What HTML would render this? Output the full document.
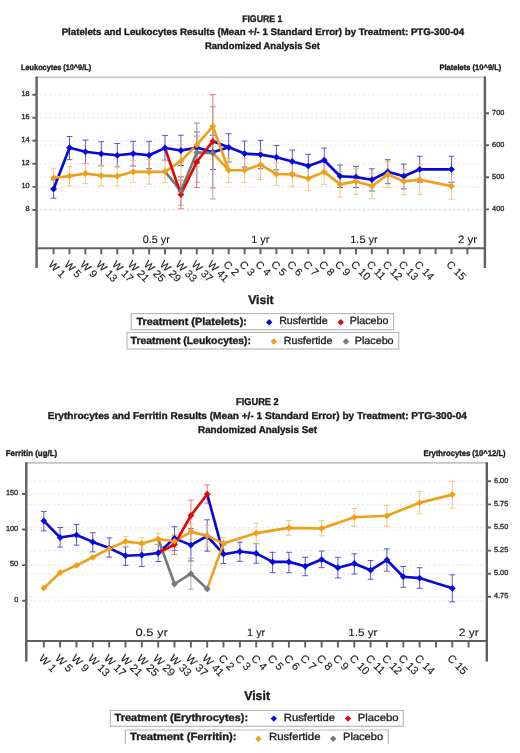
<!DOCTYPE html><html><head><meta charset="utf-8"><title>Figures</title><style>html,body{margin:0;padding:0;background:#fff;width:520px;height:753px;overflow:hidden}svg{display:block;will-change:transform;font-family:"Liberation Sans",sans-serif;text-rendering:geometricPrecision}</style></head><body>
<svg width="520" height="753" viewBox="0 0 520 753">
<rect width="520" height="753" fill="#fff"/>
<text x="262.2" y="21.8" font-size="9.6" font-weight="bold" text-anchor="middle" fill="#1a1a1a" stroke="#1a1a1a" stroke-width="0.36" textLength="40.1" lengthAdjust="spacingAndGlyphs">FIGURE 1</text>
<text x="262.9" y="35.3" font-size="9.6" font-weight="bold" text-anchor="middle" fill="#1a1a1a" stroke="#1a1a1a" stroke-width="0.36" textLength="402.5" lengthAdjust="spacingAndGlyphs">Platelets and Leukocytes Results (Mean +/- 1 Standard Error) by Treatment: PTG-300-04</text>
<text x="262.4" y="48.8" font-size="9.6" font-weight="bold" text-anchor="middle" fill="#1a1a1a" stroke="#1a1a1a" stroke-width="0.36" textLength="114.8" lengthAdjust="spacingAndGlyphs">Randomized Analysis Set</text>
<text x="21.1" y="70.3" font-size="7.9" font-weight="bold" text-anchor="start" fill="#1a1a1a" stroke="#1a1a1a" stroke-width="0.36" textLength="70.0" lengthAdjust="spacingAndGlyphs">Leukocytes (10^9/L)</text>
<text x="439.5" y="70.3" font-size="7.9" font-weight="bold" text-anchor="start" fill="#1a1a1a" stroke="#1a1a1a" stroke-width="0.36" textLength="61.8" lengthAdjust="spacingAndGlyphs">Platelets (10^9/L)</text>
<path d="M39.6 94.8H482.9" stroke="#e8e8e8" stroke-width="1.1" stroke-dasharray="2.4 2.35"/>
<path d="M39.6 117.7H482.9" stroke="#e8e8e8" stroke-width="1.1" stroke-dasharray="2.4 2.35"/>
<path d="M39.6 140.8H482.9" stroke="#e8e8e8" stroke-width="1.1" stroke-dasharray="2.4 2.35"/>
<path d="M39.6 163.8H482.9" stroke="#e8e8e8" stroke-width="1.1" stroke-dasharray="2.4 2.35"/>
<path d="M39.6 186.9H482.9" stroke="#e8e8e8" stroke-width="1.1" stroke-dasharray="2.4 2.35"/>
<path d="M39.6 210.0H482.9" stroke="#e8e8e8" stroke-width="1.1" stroke-dasharray="2.4 2.35"/>
<path d="M39.6 113.3H482.9" stroke="#e8e8e8" stroke-width="1.1" stroke-dasharray="2.4 2.35"/>
<path d="M39.6 145.2H482.9" stroke="#e8e8e8" stroke-width="1.1" stroke-dasharray="2.4 2.35"/>
<path d="M39.6 177.2H482.9" stroke="#e8e8e8" stroke-width="1.1" stroke-dasharray="2.4 2.35"/>
<path d="M39.6 209.4H482.9" stroke="#e8e8e8" stroke-width="1.1" stroke-dasharray="2.4 2.35"/>
<path d="M36.6 77.2H484.9" stroke="#c4c4c4" stroke-width="1.4"/>
<path d="M36.6 76.5V268.0M484.9 76.5V268.0" stroke="#606060" stroke-width="2.4"/>
<path d="M36.6 248.3H484.9" stroke="#606060" stroke-width="2"/>
<path d="M53.6 248.3V254.3M69.5 248.3V254.3M85.4 248.3V254.3M101.3 248.3V254.3M117.3 248.3V254.3M133.2 248.3V254.3M149.1 248.3V254.3M165.0 248.3V254.3M180.9 248.3V254.3M196.8 248.3V254.3M212.8 248.3V254.3M228.7 248.3V254.3M244.6 248.3V254.3M260.5 248.3V254.3M276.4 248.3V254.3M292.3 248.3V254.3M308.3 248.3V254.3M324.2 248.3V254.3M340.1 248.3V254.3M356.0 248.3V254.3M371.9 248.3V254.3M387.8 248.3V254.3M403.8 248.3V254.3M419.7 248.3V254.3M435.6 248.3V254.3M451.5 248.3V254.3M467.4 248.3V254.3" stroke="#606060" stroke-width="1.9"/>
<path d="M32.4 94.8H36.6M32.4 117.7H36.6M32.4 140.8H36.6M32.4 163.8H36.6M32.4 186.9H36.6M32.4 210.0H36.6M484.9 113.3H489.1M484.9 145.2H489.1M484.9 177.2H489.1M484.9 209.4H489.1" stroke="#606060" stroke-width="1.9"/>
<text x="29.6" y="96.1" font-size="7.3" text-anchor="end" fill="#2a2a2a" stroke="#2a2a2a" stroke-width="0.32">18</text>
<text x="29.6" y="119.0" font-size="7.3" text-anchor="end" fill="#2a2a2a" stroke="#2a2a2a" stroke-width="0.32">16</text>
<text x="29.6" y="142.1" font-size="7.3" text-anchor="end" fill="#2a2a2a" stroke="#2a2a2a" stroke-width="0.32">14</text>
<text x="29.6" y="165.1" font-size="7.3" text-anchor="end" fill="#2a2a2a" stroke="#2a2a2a" stroke-width="0.32">12</text>
<text x="29.6" y="188.2" font-size="7.3" text-anchor="end" fill="#2a2a2a" stroke="#2a2a2a" stroke-width="0.32">10</text>
<text x="29.6" y="211.3" font-size="7.3" text-anchor="end" fill="#2a2a2a" stroke="#2a2a2a" stroke-width="0.32">8</text>
<text x="492.1" y="114.6" font-size="7.3" text-anchor="start" fill="#2a2a2a" stroke="#2a2a2a" stroke-width="0.32">700</text>
<text x="492.1" y="146.5" font-size="7.3" text-anchor="start" fill="#2a2a2a" stroke="#2a2a2a" stroke-width="0.32">600</text>
<text x="492.1" y="178.5" font-size="7.3" text-anchor="start" fill="#2a2a2a" stroke="#2a2a2a" stroke-width="0.32">500</text>
<text x="492.1" y="210.7" font-size="7.3" text-anchor="start" fill="#2a2a2a" stroke="#2a2a2a" stroke-width="0.32">400</text>
<text x="142.8" y="243.3" font-size="10.6" text-anchor="start" fill="#1a1a1a" stroke="#1a1a1a" stroke-width="0.12" textLength="27.0" lengthAdjust="spacingAndGlyphs">0.5 yr</text>
<text x="251.2" y="243.3" font-size="10.6" text-anchor="start" fill="#1a1a1a" stroke="#1a1a1a" stroke-width="0.12" textLength="18.3" lengthAdjust="spacingAndGlyphs">1 yr</text>
<text x="350.2" y="243.3" font-size="10.6" text-anchor="start" fill="#1a1a1a" stroke="#1a1a1a" stroke-width="0.12" textLength="27.6" lengthAdjust="spacingAndGlyphs">1.5 yr</text>
<text x="457.9" y="243.3" font-size="10.6" text-anchor="start" fill="#1a1a1a" stroke="#1a1a1a" stroke-width="0.12" textLength="19.3" lengthAdjust="spacingAndGlyphs">2 yr</text>
<text x="50.0" y="266.0" font-size="10.7" fill="#1a1a1a" stroke="#1a1a1a" stroke-width="0.12" transform="rotate(45 50.0 262.8)">W 1</text>
<text x="65.9" y="266.0" font-size="10.7" fill="#1a1a1a" stroke="#1a1a1a" stroke-width="0.12" transform="rotate(45 65.9 262.8)">W 5</text>
<text x="81.8" y="266.0" font-size="10.7" fill="#1a1a1a" stroke="#1a1a1a" stroke-width="0.12" transform="rotate(45 81.8 262.8)">W 9</text>
<text x="97.7" y="266.0" font-size="10.7" fill="#1a1a1a" stroke="#1a1a1a" stroke-width="0.12" transform="rotate(45 97.7 262.8)">W 13</text>
<text x="113.7" y="266.0" font-size="10.7" fill="#1a1a1a" stroke="#1a1a1a" stroke-width="0.12" transform="rotate(45 113.7 262.8)">W 17</text>
<text x="129.6" y="266.0" font-size="10.7" fill="#1a1a1a" stroke="#1a1a1a" stroke-width="0.12" transform="rotate(45 129.6 262.8)">W 21</text>
<text x="145.5" y="266.0" font-size="10.7" fill="#1a1a1a" stroke="#1a1a1a" stroke-width="0.12" transform="rotate(45 145.5 262.8)">W 25</text>
<text x="161.4" y="266.0" font-size="10.7" fill="#1a1a1a" stroke="#1a1a1a" stroke-width="0.12" transform="rotate(45 161.4 262.8)">W 29</text>
<text x="177.3" y="266.0" font-size="10.7" fill="#1a1a1a" stroke="#1a1a1a" stroke-width="0.12" transform="rotate(45 177.3 262.8)">W 33</text>
<text x="193.2" y="266.0" font-size="10.7" fill="#1a1a1a" stroke="#1a1a1a" stroke-width="0.12" transform="rotate(45 193.2 262.8)">W 37</text>
<text x="209.2" y="266.0" font-size="10.7" fill="#1a1a1a" stroke="#1a1a1a" stroke-width="0.12" transform="rotate(45 209.2 262.8)">W 41</text>
<text x="225.1" y="266.0" font-size="10.7" fill="#1a1a1a" stroke="#1a1a1a" stroke-width="0.12" transform="rotate(45 225.1 262.8)">C 2</text>
<text x="241.0" y="266.0" font-size="10.7" fill="#1a1a1a" stroke="#1a1a1a" stroke-width="0.12" transform="rotate(45 241.0 262.8)">C 3</text>
<text x="256.9" y="266.0" font-size="10.7" fill="#1a1a1a" stroke="#1a1a1a" stroke-width="0.12" transform="rotate(45 256.9 262.8)">C 4</text>
<text x="272.8" y="266.0" font-size="10.7" fill="#1a1a1a" stroke="#1a1a1a" stroke-width="0.12" transform="rotate(45 272.8 262.8)">C 5</text>
<text x="288.7" y="266.0" font-size="10.7" fill="#1a1a1a" stroke="#1a1a1a" stroke-width="0.12" transform="rotate(45 288.7 262.8)">C 6</text>
<text x="304.7" y="266.0" font-size="10.7" fill="#1a1a1a" stroke="#1a1a1a" stroke-width="0.12" transform="rotate(45 304.7 262.8)">C 7</text>
<text x="320.6" y="266.0" font-size="10.7" fill="#1a1a1a" stroke="#1a1a1a" stroke-width="0.12" transform="rotate(45 320.6 262.8)">C 8</text>
<text x="336.5" y="266.0" font-size="10.7" fill="#1a1a1a" stroke="#1a1a1a" stroke-width="0.12" transform="rotate(45 336.5 262.8)">C 9</text>
<text x="352.4" y="266.0" font-size="10.7" fill="#1a1a1a" stroke="#1a1a1a" stroke-width="0.12" transform="rotate(45 352.4 262.8)">C 10</text>
<text x="368.3" y="266.0" font-size="10.7" fill="#1a1a1a" stroke="#1a1a1a" stroke-width="0.12" transform="rotate(45 368.3 262.8)">C 11</text>
<text x="384.2" y="266.0" font-size="10.7" fill="#1a1a1a" stroke="#1a1a1a" stroke-width="0.12" transform="rotate(45 384.2 262.8)">C 12</text>
<text x="400.2" y="266.0" font-size="10.7" fill="#1a1a1a" stroke="#1a1a1a" stroke-width="0.12" transform="rotate(45 400.2 262.8)">C 13</text>
<text x="416.1" y="266.0" font-size="10.7" fill="#1a1a1a" stroke="#1a1a1a" stroke-width="0.12" transform="rotate(45 416.1 262.8)">C 14</text>
<text x="447.9" y="266.0" font-size="10.7" fill="#1a1a1a" stroke="#1a1a1a" stroke-width="0.12" transform="rotate(45 447.9 262.8)">C 15</text>
<text x="248.2" y="304.0" font-size="12.3" font-weight="bold" text-anchor="start" fill="#1a1a1a" stroke="#1a1a1a" stroke-width="0.36" textLength="25.4" lengthAdjust="spacingAndGlyphs">Visit</text>
<rect x="131.2" y="313.6" width="262.4" height="16.0" fill="none" stroke="#b9b9b9" stroke-width="1.2"/>
<text x="136.4" y="324.5" font-size="10.4" font-weight="bold" text-anchor="start" fill="#1a1a1a" stroke="#1a1a1a" stroke-width="0.36" textLength="110.5" lengthAdjust="spacingAndGlyphs">Treatment (Platelets):</text>
<path d="M269.2 319.0L272.4 322.2L269.2 325.4L266.0 322.2Z" fill="#0808dc"/>
<text x="279.2" y="324.4" font-size="10.4" text-anchor="start" fill="#1a1a1a" stroke="#1a1a1a" stroke-width="0.32" textLength="48.5" lengthAdjust="spacingAndGlyphs">Rusfertide</text>
<path d="M340.8 319.0L344.0 322.2L340.8 325.4L337.6 322.2Z" fill="#e10a0a"/>
<text x="349.8" y="324.4" font-size="10.4" text-anchor="start" fill="#1a1a1a" stroke="#1a1a1a" stroke-width="0.32" textLength="38.7" lengthAdjust="spacingAndGlyphs">Placebo</text>
<rect x="127.0" y="332.4" width="271.7" height="16.6" fill="none" stroke="#b9b9b9" stroke-width="1.2"/>
<text x="130.6" y="343.5" font-size="10.4" font-weight="bold" text-anchor="start" fill="#1a1a1a" stroke="#1a1a1a" stroke-width="0.36" textLength="120.4" lengthAdjust="spacingAndGlyphs">Treatment (Leukocytes):</text>
<path d="M273.8 338.3L277.0 341.5L273.8 344.7L270.6 341.5Z" fill="#f0a018"/>
<text x="283.8" y="343.5" font-size="10.4" text-anchor="start" fill="#1a1a1a" stroke="#1a1a1a" stroke-width="0.32" textLength="48.5" lengthAdjust="spacingAndGlyphs">Rusfertide</text>
<path d="M345.9 338.3L349.1 341.5L345.9 344.7L342.7 341.5Z" fill="#777777"/>
<text x="354.8" y="343.5" font-size="10.4" text-anchor="start" fill="#1a1a1a" stroke="#1a1a1a" stroke-width="0.32" textLength="38.8" lengthAdjust="spacingAndGlyphs">Placebo</text>
<path d="M53.6 179.8V198.2M50.7 179.8H56.5M50.7 198.2H56.5" stroke="#4a4ab4" stroke-width="0.9" fill="none"/>
<path d="M69.5 136.5V159.7M66.6 136.5H72.4M66.6 159.7H72.4" stroke="#4a4ab4" stroke-width="0.9" fill="none"/>
<path d="M85.4 140.0V163.6M82.5 140.0H88.3M82.5 163.6H88.3" stroke="#4a4ab4" stroke-width="0.9" fill="none"/>
<path d="M101.3 141.7V165.8M98.4 141.7H104.2M98.4 165.8H104.2" stroke="#4a4ab4" stroke-width="0.9" fill="none"/>
<path d="M117.3 143.5V166.8M114.4 143.5H120.2M114.4 166.8H120.2" stroke="#4a4ab4" stroke-width="0.9" fill="none"/>
<path d="M133.2 141.3V166.0M130.3 141.3H136.1M130.3 166.0H136.1" stroke="#4a4ab4" stroke-width="0.9" fill="none"/>
<path d="M149.1 141.4V168.7M146.2 141.4H152.0M146.2 168.7H152.0" stroke="#4a4ab4" stroke-width="0.9" fill="none"/>
<path d="M165.0 135.4V160.3M162.1 135.4H167.9M162.1 160.3H167.9" stroke="#4a4ab4" stroke-width="0.9" fill="none"/>
<path d="M180.9 135.2V165.5M178.0 135.2H183.8M178.0 165.5H183.8" stroke="#4a4ab4" stroke-width="0.9" fill="none"/>
<path d="M196.8 131.9V163.3M193.9 131.9H199.7M193.9 163.3H199.7" stroke="#4a4ab4" stroke-width="0.9" fill="none"/>
<path d="M212.8 135.2V169.5M209.9 135.2H215.7M209.9 169.5H215.7" stroke="#4a4ab4" stroke-width="0.9" fill="none"/>
<path d="M228.7 133.7V162.0M225.8 133.7H231.6M225.8 162.0H231.6" stroke="#4a4ab4" stroke-width="0.9" fill="none"/>
<path d="M244.6 141.1V167.1M241.7 141.1H247.5M241.7 167.1H247.5" stroke="#4a4ab4" stroke-width="0.9" fill="none"/>
<path d="M260.5 140.4V168.8M257.6 140.4H263.4M257.6 168.8H263.4" stroke="#4a4ab4" stroke-width="0.9" fill="none"/>
<path d="M276.4 145.4V169.8M273.5 145.4H279.3M273.5 169.8H279.3" stroke="#4a4ab4" stroke-width="0.9" fill="none"/>
<path d="M292.3 150.0V173.0M289.4 150.0H295.2M289.4 173.0H295.2" stroke="#4a4ab4" stroke-width="0.9" fill="none"/>
<path d="M308.3 154.4V177.4M305.4 154.4H311.2M305.4 177.4H311.2" stroke="#4a4ab4" stroke-width="0.9" fill="none"/>
<path d="M324.2 148.0V172.4M321.3 148.0H327.1M321.3 172.4H327.1" stroke="#4a4ab4" stroke-width="0.9" fill="none"/>
<path d="M340.1 165.0V187.5M337.2 165.0H343.0M337.2 187.5H343.0" stroke="#4a4ab4" stroke-width="0.9" fill="none"/>
<path d="M356.0 166.4V187.5M353.1 166.4H358.9M353.1 187.5H358.9" stroke="#4a4ab4" stroke-width="0.9" fill="none"/>
<path d="M371.9 168.8V191.0M369.0 168.8H374.8M369.0 191.0H374.8" stroke="#4a4ab4" stroke-width="0.9" fill="none"/>
<path d="M387.8 159.7V183.7M384.9 159.7H390.7M384.9 183.7H390.7" stroke="#4a4ab4" stroke-width="0.9" fill="none"/>
<path d="M403.8 164.1V188.9M400.9 164.1H406.7M400.9 188.9H406.7" stroke="#4a4ab4" stroke-width="0.9" fill="none"/>
<path d="M419.7 156.3V182.3M416.8 156.3H422.6M416.8 182.3H422.6" stroke="#4a4ab4" stroke-width="0.9" fill="none"/>
<path d="M451.5 156.3V182.3M448.6 156.3H454.4M448.6 182.3H454.4" stroke="#4a4ab4" stroke-width="0.9" fill="none"/>
<path d="M180.9 180.2V208.8M178.0 180.2H183.8M178.0 208.8H183.8" stroke="#e8646e" stroke-width="0.9" fill="none"/>
<path d="M196.8 136.1V187.5M193.9 136.1H199.7M193.9 187.5H199.7" stroke="#e8646e" stroke-width="0.9" fill="none"/>
<path d="M212.8 94.7V187.9M209.9 94.7H215.7M209.9 187.9H215.7" stroke="#e8646e" stroke-width="0.9" fill="none"/>
<path d="M53.6 168.3V187.3M50.7 168.3H56.5M50.7 187.3H56.5" stroke="#f0c27a" stroke-width="0.9" fill="none"/>
<path d="M69.5 166.5V185.9M66.6 166.5H72.4M66.6 185.9H72.4" stroke="#f0c27a" stroke-width="0.9" fill="none"/>
<path d="M85.4 163.5V183.7M82.5 163.5H88.3M82.5 183.7H88.3" stroke="#f0c27a" stroke-width="0.9" fill="none"/>
<path d="M101.3 165.3V185.9M98.4 165.3H104.2M98.4 185.9H104.2" stroke="#f0c27a" stroke-width="0.9" fill="none"/>
<path d="M117.3 166.3V185.9M114.4 166.3H120.2M114.4 185.9H120.2" stroke="#f0c27a" stroke-width="0.9" fill="none"/>
<path d="M133.2 160.7V182.2M130.3 160.7H136.1M130.3 182.2H136.1" stroke="#f0c27a" stroke-width="0.9" fill="none"/>
<path d="M149.1 159.3V184.2M146.2 159.3H152.0M146.2 184.2H152.0" stroke="#f0c27a" stroke-width="0.9" fill="none"/>
<path d="M165.0 160.7V182.7M162.1 160.7H167.9M162.1 182.7H167.9" stroke="#f0c27a" stroke-width="0.9" fill="none"/>
<path d="M180.9 144.9V177.5M178.0 144.9H183.8M178.0 177.5H183.8" stroke="#f0c27a" stroke-width="0.9" fill="none"/>
<path d="M196.8 123.2V166.6M193.9 123.2H199.7M193.9 166.6H199.7" stroke="#f0c27a" stroke-width="0.9" fill="none"/>
<path d="M212.8 106.2V146.4M209.9 106.2H215.7M209.9 146.4H215.7" stroke="#f0c27a" stroke-width="0.9" fill="none"/>
<path d="M228.7 158.3V182.3M225.8 158.3H231.6M225.8 182.3H231.6" stroke="#f0c27a" stroke-width="0.9" fill="none"/>
<path d="M244.6 158.1V182.3M241.7 158.1H247.5M241.7 182.3H247.5" stroke="#f0c27a" stroke-width="0.9" fill="none"/>
<path d="M260.5 150.3V179.7M257.6 150.3H263.4M257.6 179.7H263.4" stroke="#f0c27a" stroke-width="0.9" fill="none"/>
<path d="M276.4 162.6V185.4M273.5 162.6H279.3M273.5 185.4H279.3" stroke="#f0c27a" stroke-width="0.9" fill="none"/>
<path d="M292.3 162.7V186.3M289.4 162.7H295.2M289.4 186.3H295.2" stroke="#f0c27a" stroke-width="0.9" fill="none"/>
<path d="M308.3 166.4V190.6M305.4 166.4H311.2M305.4 190.6H311.2" stroke="#f0c27a" stroke-width="0.9" fill="none"/>
<path d="M324.2 159.4V184.4M321.3 159.4H327.1M321.3 184.4H327.1" stroke="#f0c27a" stroke-width="0.9" fill="none"/>
<path d="M340.1 171.8V197.0M337.2 171.8H343.0M337.2 197.0H343.0" stroke="#f0c27a" stroke-width="0.9" fill="none"/>
<path d="M356.0 168.4V194.4M353.1 168.4H358.9M353.1 194.4H358.9" stroke="#f0c27a" stroke-width="0.9" fill="none"/>
<path d="M371.9 173.5V198.7M369.0 173.5H374.8M369.0 198.7H374.8" stroke="#f0c27a" stroke-width="0.9" fill="none"/>
<path d="M387.8 161.5V187.5M384.9 161.5H390.7M384.9 187.5H390.7" stroke="#f0c27a" stroke-width="0.9" fill="none"/>
<path d="M403.8 169.7V194.8M400.9 169.7H406.7M400.9 194.8H406.7" stroke="#f0c27a" stroke-width="0.9" fill="none"/>
<path d="M419.7 164.7V194.4M416.8 164.7H422.6M416.8 194.4H422.6" stroke="#f0c27a" stroke-width="0.9" fill="none"/>
<path d="M451.5 173.3V199.3M448.6 173.3H454.4M448.6 199.3H454.4" stroke="#f0c27a" stroke-width="0.9" fill="none"/>
<path d="M180.9 176.4V205.2M178.0 176.4H183.8M178.0 205.2H183.8" stroke="#a0a0a0" stroke-width="0.9" fill="none"/>
<path d="M196.8 123.0V182.2M193.9 123.0H199.7M193.9 182.2H199.7" stroke="#a0a0a0" stroke-width="0.9" fill="none"/>
<path d="M212.8 106.8V199.0M209.9 106.8H215.7M209.9 199.0H215.7" stroke="#a0a0a0" stroke-width="0.9" fill="none"/>
<path d="M53.6 189.0L69.5 147.7L85.4 151.8L101.3 153.8L117.3 155.3L133.2 153.6L149.1 155.3L165.0 148.0L180.9 150.5L196.8 147.6L212.8 152.3L228.7 147.3L244.6 153.6L260.5 154.6L276.4 157.2L292.3 161.5L308.3 165.9L324.2 160.2L340.1 176.2L356.0 177.1L371.9 179.7L387.8 171.7L403.8 176.2L419.7 169.3L451.5 169.3" stroke="#0808dc" stroke-width="2.65" fill="none" stroke-linejoin="round" stroke-linecap="round"/>
<path d="M212.8 141.3L228.7 147.3" stroke="#0808dc" stroke-width="2.65" fill="none" stroke-linejoin="round" stroke-linecap="round"/>
<path d="M53.6 177.8L69.5 176.1L85.4 173.5L101.3 175.6L117.3 176.1L133.2 171.7L149.1 171.9L165.0 171.7L180.9 161.2L196.8 144.9L212.8 126.3L228.7 170.3L244.6 170.2L260.5 164.7L276.4 174.0L292.3 174.5L308.3 178.5L324.2 171.9L340.1 184.4L356.0 181.4L371.9 186.1L387.8 174.5L403.8 181.4L419.7 179.7L451.5 186.1" stroke="#f0a018" stroke-width="2.65" fill="none" stroke-linejoin="round" stroke-linecap="round"/>
<path d="M212.8 152.9L228.7 170.3" stroke="#f0a018" stroke-width="2.65" fill="none" stroke-linejoin="round" stroke-linecap="round"/>
<path d="M165.0 171.7L180.9 190.8L196.8 152.6L212.8 152.9" stroke="#777777" stroke-width="2.65" fill="none" stroke-linejoin="round" stroke-linecap="round"/>
<path d="M165.0 148.0L180.9 194.5L196.8 161.8L212.8 141.3" stroke="#e10a0a" stroke-width="2.65" fill="none" stroke-linejoin="round" stroke-linecap="round"/>
<path d="M53.6 185.6L57.0 189.0L53.6 192.4L50.2 189.0Z" fill="#0808dc"/>
<path d="M69.5 144.3L72.9 147.7L69.5 151.1L66.1 147.7Z" fill="#0808dc"/>
<path d="M85.4 148.4L88.8 151.8L85.4 155.2L82.0 151.8Z" fill="#0808dc"/>
<path d="M101.3 150.4L104.7 153.8L101.3 157.2L97.9 153.8Z" fill="#0808dc"/>
<path d="M117.3 151.9L120.7 155.3L117.3 158.7L113.9 155.3Z" fill="#0808dc"/>
<path d="M133.2 150.2L136.6 153.6L133.2 157.0L129.8 153.6Z" fill="#0808dc"/>
<path d="M149.1 151.9L152.5 155.3L149.1 158.7L145.7 155.3Z" fill="#0808dc"/>
<path d="M165.0 144.6L168.4 148.0L165.0 151.4L161.6 148.0Z" fill="#0808dc"/>
<path d="M180.9 147.1L184.3 150.5L180.9 153.9L177.5 150.5Z" fill="#0808dc"/>
<path d="M196.8 144.2L200.2 147.6L196.8 151.0L193.4 147.6Z" fill="#0808dc"/>
<path d="M212.8 148.9L216.2 152.3L212.8 155.7L209.4 152.3Z" fill="#0808dc"/>
<path d="M228.7 143.9L232.1 147.3L228.7 150.7L225.3 147.3Z" fill="#0808dc"/>
<path d="M244.6 150.2L248.0 153.6L244.6 157.0L241.2 153.6Z" fill="#0808dc"/>
<path d="M260.5 151.2L263.9 154.6L260.5 158.0L257.1 154.6Z" fill="#0808dc"/>
<path d="M276.4 153.8L279.8 157.2L276.4 160.6L273.0 157.2Z" fill="#0808dc"/>
<path d="M292.3 158.1L295.7 161.5L292.3 164.9L288.9 161.5Z" fill="#0808dc"/>
<path d="M308.3 162.5L311.7 165.9L308.3 169.3L304.9 165.9Z" fill="#0808dc"/>
<path d="M324.2 156.8L327.6 160.2L324.2 163.6L320.8 160.2Z" fill="#0808dc"/>
<path d="M340.1 172.8L343.5 176.2L340.1 179.6L336.7 176.2Z" fill="#0808dc"/>
<path d="M356.0 173.7L359.4 177.1L356.0 180.5L352.6 177.1Z" fill="#0808dc"/>
<path d="M371.9 176.3L375.3 179.7L371.9 183.1L368.5 179.7Z" fill="#0808dc"/>
<path d="M387.8 168.3L391.2 171.7L387.8 175.1L384.4 171.7Z" fill="#0808dc"/>
<path d="M403.8 172.8L407.2 176.2L403.8 179.6L400.4 176.2Z" fill="#0808dc"/>
<path d="M419.7 165.9L423.1 169.3L419.7 172.7L416.3 169.3Z" fill="#0808dc"/>
<path d="M451.5 165.9L454.9 169.3L451.5 172.7L448.1 169.3Z" fill="#0808dc"/>
<path d="M180.9 191.1L184.3 194.5L180.9 197.9L177.5 194.5Z" fill="#e10a0a"/>
<path d="M196.8 158.4L200.2 161.8L196.8 165.2L193.4 161.8Z" fill="#e10a0a"/>
<path d="M212.8 137.9L216.2 141.3L212.8 144.7L209.4 141.3Z" fill="#e10a0a"/>
<path d="M53.6 174.4L57.0 177.8L53.6 181.2L50.2 177.8Z" fill="#f0a018"/>
<path d="M69.5 172.7L72.9 176.1L69.5 179.5L66.1 176.1Z" fill="#f0a018"/>
<path d="M85.4 170.1L88.8 173.5L85.4 176.9L82.0 173.5Z" fill="#f0a018"/>
<path d="M101.3 172.2L104.7 175.6L101.3 179.0L97.9 175.6Z" fill="#f0a018"/>
<path d="M117.3 172.7L120.7 176.1L117.3 179.5L113.9 176.1Z" fill="#f0a018"/>
<path d="M133.2 168.3L136.6 171.7L133.2 175.1L129.8 171.7Z" fill="#f0a018"/>
<path d="M149.1 168.5L152.5 171.9L149.1 175.3L145.7 171.9Z" fill="#f0a018"/>
<path d="M165.0 168.3L168.4 171.7L165.0 175.1L161.6 171.7Z" fill="#f0a018"/>
<path d="M180.9 157.8L184.3 161.2L180.9 164.6L177.5 161.2Z" fill="#f0a018"/>
<path d="M196.8 141.5L200.2 144.9L196.8 148.3L193.4 144.9Z" fill="#f0a018"/>
<path d="M212.8 122.9L216.2 126.3L212.8 129.7L209.4 126.3Z" fill="#f0a018"/>
<path d="M228.7 166.9L232.1 170.3L228.7 173.7L225.3 170.3Z" fill="#f0a018"/>
<path d="M244.6 166.8L248.0 170.2L244.6 173.6L241.2 170.2Z" fill="#f0a018"/>
<path d="M260.5 161.3L263.9 164.7L260.5 168.1L257.1 164.7Z" fill="#f0a018"/>
<path d="M276.4 170.6L279.8 174.0L276.4 177.4L273.0 174.0Z" fill="#f0a018"/>
<path d="M292.3 171.1L295.7 174.5L292.3 177.9L288.9 174.5Z" fill="#f0a018"/>
<path d="M308.3 175.1L311.7 178.5L308.3 181.9L304.9 178.5Z" fill="#f0a018"/>
<path d="M324.2 168.5L327.6 171.9L324.2 175.3L320.8 171.9Z" fill="#f0a018"/>
<path d="M340.1 181.0L343.5 184.4L340.1 187.8L336.7 184.4Z" fill="#f0a018"/>
<path d="M356.0 178.0L359.4 181.4L356.0 184.8L352.6 181.4Z" fill="#f0a018"/>
<path d="M371.9 182.7L375.3 186.1L371.9 189.5L368.5 186.1Z" fill="#f0a018"/>
<path d="M387.8 171.1L391.2 174.5L387.8 177.9L384.4 174.5Z" fill="#f0a018"/>
<path d="M403.8 178.0L407.2 181.4L403.8 184.8L400.4 181.4Z" fill="#f0a018"/>
<path d="M419.7 176.3L423.1 179.7L419.7 183.1L416.3 179.7Z" fill="#f0a018"/>
<path d="M451.5 182.7L454.9 186.1L451.5 189.5L448.1 186.1Z" fill="#f0a018"/>
<path d="M180.9 187.4L184.3 190.8L180.9 194.2L177.5 190.8Z" fill="#777777"/>
<path d="M196.8 149.2L200.2 152.6L196.8 156.0L193.4 152.6Z" fill="#777777"/>
<path d="M212.8 149.5L216.2 152.9L212.8 156.3L209.4 152.9Z" fill="#777777"/>
<text x="257.4" y="405.0" font-size="9.9" font-weight="bold" text-anchor="middle" fill="#1a1a1a" stroke="#1a1a1a" stroke-width="0.36" textLength="42.7" lengthAdjust="spacingAndGlyphs">FIGURE 2</text>
<text x="257.3" y="419.4" font-size="9.9" font-weight="bold" text-anchor="middle" fill="#1a1a1a" stroke="#1a1a1a" stroke-width="0.36" textLength="419.2" lengthAdjust="spacingAndGlyphs">Erythrocytes and Ferritin Results (Mean +/- 1 Standard Error) by Treatment: PTG-300-04</text>
<text x="257.5" y="433.3" font-size="9.9" font-weight="bold" text-anchor="middle" fill="#1a1a1a" stroke="#1a1a1a" stroke-width="0.36" textLength="118.8" lengthAdjust="spacingAndGlyphs">Randomized Analysis Set</text>
<text x="5.8" y="455.6" font-size="8.3" font-weight="bold" text-anchor="start" fill="#1a1a1a" stroke="#1a1a1a" stroke-width="0.36" textLength="51.3" lengthAdjust="spacingAndGlyphs">Ferritin (ug/L)</text>
<text x="423.5" y="455.6" font-size="8.3" font-weight="bold" text-anchor="start" fill="#1a1a1a" stroke="#1a1a1a" stroke-width="0.36" textLength="82.1" lengthAdjust="spacingAndGlyphs">Erythrocytes (10^12/L)</text>
<path d="M29.3 494.0H484.8" stroke="#e8e8e8" stroke-width="1.1" stroke-dasharray="2.4 2.35"/>
<path d="M29.3 529.5H484.8" stroke="#e8e8e8" stroke-width="1.1" stroke-dasharray="2.4 2.35"/>
<path d="M29.3 565.1H484.8" stroke="#e8e8e8" stroke-width="1.1" stroke-dasharray="2.4 2.35"/>
<path d="M29.3 600.7H484.8" stroke="#e8e8e8" stroke-width="1.1" stroke-dasharray="2.4 2.35"/>
<path d="M29.3 481.3H484.8" stroke="#e8e8e8" stroke-width="1.1" stroke-dasharray="2.4 2.35"/>
<path d="M29.3 504.4H484.8" stroke="#e8e8e8" stroke-width="1.1" stroke-dasharray="2.4 2.35"/>
<path d="M29.3 527.5H484.8" stroke="#e8e8e8" stroke-width="1.1" stroke-dasharray="2.4 2.35"/>
<path d="M29.3 550.6H484.8" stroke="#e8e8e8" stroke-width="1.1" stroke-dasharray="2.4 2.35"/>
<path d="M29.3 573.7H484.8" stroke="#e8e8e8" stroke-width="1.1" stroke-dasharray="2.4 2.35"/>
<path d="M29.3 596.8H484.8" stroke="#e8e8e8" stroke-width="1.1" stroke-dasharray="2.4 2.35"/>
<path d="M26.3 462.9H486.8" stroke="#acacac" stroke-width="1.4"/>
<path d="M26.3 462.2V661.5M486.8 462.2V661.5" stroke="#606060" stroke-width="2.4"/>
<path d="M26.3 641.0H486.8" stroke="#606060" stroke-width="2"/>
<path d="M43.8 641.0V647.6M60.1 641.0V647.6M76.5 641.0V647.6M92.8 641.0V647.6M109.2 641.0V647.6M125.5 641.0V647.6M141.8 641.0V647.6M158.2 641.0V647.6M174.5 641.0V647.6M190.9 641.0V647.6M207.2 641.0V647.6M223.5 641.0V647.6M239.9 641.0V647.6M256.2 641.0V647.6M272.6 641.0V647.6M288.9 641.0V647.6M305.2 641.0V647.6M321.6 641.0V647.6M337.9 641.0V647.6M354.3 641.0V647.6M370.6 641.0V647.6M386.9 641.0V647.6M403.3 641.0V647.6M419.6 641.0V647.6M436.0 641.0V647.6M452.3 641.0V647.6M468.6 641.0V647.6" stroke="#606060" stroke-width="1.9"/>
<path d="M22.1 494.0H26.3M22.1 529.5H26.3M22.1 565.1H26.3M22.1 600.7H26.3M486.8 481.3H491.0M486.8 504.4H491.0M486.8 527.5H491.0M486.8 550.6H491.0M486.8 573.7H491.0M486.8 596.8H491.0" stroke="#606060" stroke-width="1.9"/>
<text x="18.2" y="495.3" font-size="7.3" text-anchor="end" fill="#2a2a2a" stroke="#2a2a2a" stroke-width="0.32">150</text>
<text x="18.2" y="530.8" font-size="7.3" text-anchor="end" fill="#2a2a2a" stroke="#2a2a2a" stroke-width="0.32">100</text>
<text x="18.2" y="566.4" font-size="7.3" text-anchor="end" fill="#2a2a2a" stroke="#2a2a2a" stroke-width="0.32">50</text>
<text x="18.2" y="602.0" font-size="7.3" text-anchor="end" fill="#2a2a2a" stroke="#2a2a2a" stroke-width="0.32">0</text>
<text x="494.0" y="482.6" font-size="7.3" text-anchor="start" fill="#2a2a2a" stroke="#2a2a2a" stroke-width="0.32">6.00</text>
<text x="494.0" y="505.7" font-size="7.3" text-anchor="start" fill="#2a2a2a" stroke="#2a2a2a" stroke-width="0.32">5.75</text>
<text x="494.0" y="528.8" font-size="7.3" text-anchor="start" fill="#2a2a2a" stroke="#2a2a2a" stroke-width="0.32">5.50</text>
<text x="494.0" y="551.9" font-size="7.3" text-anchor="start" fill="#2a2a2a" stroke="#2a2a2a" stroke-width="0.32">5.25</text>
<text x="494.0" y="575.0" font-size="7.3" text-anchor="start" fill="#2a2a2a" stroke="#2a2a2a" stroke-width="0.32">5.00</text>
<text x="494.0" y="598.1" font-size="7.3" text-anchor="start" fill="#2a2a2a" stroke="#2a2a2a" stroke-width="0.32">4.75</text>
<text x="135.4" y="636.1" font-size="10.6" text-anchor="start" fill="#1a1a1a" stroke="#1a1a1a" stroke-width="0.12" textLength="32.3" lengthAdjust="spacingAndGlyphs">0.5 yr</text>
<text x="247.1" y="636.1" font-size="10.6" text-anchor="start" fill="#1a1a1a" stroke="#1a1a1a" stroke-width="0.12" textLength="18.1" lengthAdjust="spacingAndGlyphs">1 yr</text>
<text x="348.2" y="636.1" font-size="10.6" text-anchor="start" fill="#1a1a1a" stroke="#1a1a1a" stroke-width="0.12" textLength="29.2" lengthAdjust="spacingAndGlyphs">1.5 yr</text>
<text x="458.7" y="636.1" font-size="10.6" text-anchor="start" fill="#1a1a1a" stroke="#1a1a1a" stroke-width="0.12" textLength="20.1" lengthAdjust="spacingAndGlyphs">2 yr</text>
<text x="40.4" y="659.9" font-size="11.0" fill="#1a1a1a" stroke="#1a1a1a" stroke-width="0.12" transform="rotate(45 40.4 656.7)">W 1</text>
<text x="56.7" y="659.9" font-size="11.0" fill="#1a1a1a" stroke="#1a1a1a" stroke-width="0.12" transform="rotate(45 56.7 656.7)">W 5</text>
<text x="73.1" y="659.9" font-size="11.0" fill="#1a1a1a" stroke="#1a1a1a" stroke-width="0.12" transform="rotate(45 73.1 656.7)">W 9</text>
<text x="89.4" y="659.9" font-size="11.0" fill="#1a1a1a" stroke="#1a1a1a" stroke-width="0.12" transform="rotate(45 89.4 656.7)">W 13</text>
<text x="105.8" y="659.9" font-size="11.0" fill="#1a1a1a" stroke="#1a1a1a" stroke-width="0.12" transform="rotate(45 105.8 656.7)">W 17</text>
<text x="122.1" y="659.9" font-size="11.0" fill="#1a1a1a" stroke="#1a1a1a" stroke-width="0.12" transform="rotate(45 122.1 656.7)">W 21</text>
<text x="138.4" y="659.9" font-size="11.0" fill="#1a1a1a" stroke="#1a1a1a" stroke-width="0.12" transform="rotate(45 138.4 656.7)">W 25</text>
<text x="154.8" y="659.9" font-size="11.0" fill="#1a1a1a" stroke="#1a1a1a" stroke-width="0.12" transform="rotate(45 154.8 656.7)">W 29</text>
<text x="171.1" y="659.9" font-size="11.0" fill="#1a1a1a" stroke="#1a1a1a" stroke-width="0.12" transform="rotate(45 171.1 656.7)">W 33</text>
<text x="187.5" y="659.9" font-size="11.0" fill="#1a1a1a" stroke="#1a1a1a" stroke-width="0.12" transform="rotate(45 187.5 656.7)">W 37</text>
<text x="203.8" y="659.9" font-size="11.0" fill="#1a1a1a" stroke="#1a1a1a" stroke-width="0.12" transform="rotate(45 203.8 656.7)">W 41</text>
<text x="220.1" y="659.9" font-size="11.0" fill="#1a1a1a" stroke="#1a1a1a" stroke-width="0.12" transform="rotate(45 220.1 656.7)">C 2</text>
<text x="236.5" y="659.9" font-size="11.0" fill="#1a1a1a" stroke="#1a1a1a" stroke-width="0.12" transform="rotate(45 236.5 656.7)">C 3</text>
<text x="252.8" y="659.9" font-size="11.0" fill="#1a1a1a" stroke="#1a1a1a" stroke-width="0.12" transform="rotate(45 252.8 656.7)">C 4</text>
<text x="269.2" y="659.9" font-size="11.0" fill="#1a1a1a" stroke="#1a1a1a" stroke-width="0.12" transform="rotate(45 269.2 656.7)">C 5</text>
<text x="285.5" y="659.9" font-size="11.0" fill="#1a1a1a" stroke="#1a1a1a" stroke-width="0.12" transform="rotate(45 285.5 656.7)">C 6</text>
<text x="301.8" y="659.9" font-size="11.0" fill="#1a1a1a" stroke="#1a1a1a" stroke-width="0.12" transform="rotate(45 301.8 656.7)">C 7</text>
<text x="318.2" y="659.9" font-size="11.0" fill="#1a1a1a" stroke="#1a1a1a" stroke-width="0.12" transform="rotate(45 318.2 656.7)">C 8</text>
<text x="334.5" y="659.9" font-size="11.0" fill="#1a1a1a" stroke="#1a1a1a" stroke-width="0.12" transform="rotate(45 334.5 656.7)">C 9</text>
<text x="350.9" y="659.9" font-size="11.0" fill="#1a1a1a" stroke="#1a1a1a" stroke-width="0.12" transform="rotate(45 350.9 656.7)">C 10</text>
<text x="367.2" y="659.9" font-size="11.0" fill="#1a1a1a" stroke="#1a1a1a" stroke-width="0.12" transform="rotate(45 367.2 656.7)">C 11</text>
<text x="383.5" y="659.9" font-size="11.0" fill="#1a1a1a" stroke="#1a1a1a" stroke-width="0.12" transform="rotate(45 383.5 656.7)">C 12</text>
<text x="399.9" y="659.9" font-size="11.0" fill="#1a1a1a" stroke="#1a1a1a" stroke-width="0.12" transform="rotate(45 399.9 656.7)">C 13</text>
<text x="416.2" y="659.9" font-size="11.0" fill="#1a1a1a" stroke="#1a1a1a" stroke-width="0.12" transform="rotate(45 416.2 656.7)">C 14</text>
<text x="448.9" y="659.9" font-size="11.0" fill="#1a1a1a" stroke="#1a1a1a" stroke-width="0.12" transform="rotate(45 448.9 656.7)">C 15</text>
<text x="244.2" y="700.0" font-size="12.8" font-weight="bold" text-anchor="start" fill="#1a1a1a" stroke="#1a1a1a" stroke-width="0.36" textLength="25.8" lengthAdjust="spacingAndGlyphs">Visit</text>
<rect x="110.4" y="710.4" width="292.9" height="15.9" fill="none" stroke="#b9b9b9" stroke-width="1.2"/>
<text x="114.6" y="720.8" font-size="10.4" font-weight="bold" text-anchor="start" fill="#1a1a1a" stroke="#1a1a1a" stroke-width="0.36" textLength="133.5" lengthAdjust="spacingAndGlyphs">Treatment (Erythrocytes):</text>
<path d="M273.8 715.4L277.0 718.6L273.8 721.8L270.6 718.6Z" fill="#0808dc"/>
<text x="283.8" y="720.7" font-size="10.4" text-anchor="start" fill="#1a1a1a" stroke="#1a1a1a" stroke-width="0.32" textLength="51.3" lengthAdjust="spacingAndGlyphs">Rusfertide</text>
<path d="M348.0 715.4L351.2 718.6L348.0 721.8L344.8 718.6Z" fill="#e10a0a"/>
<text x="357.7" y="720.7" font-size="10.4" text-anchor="start" fill="#1a1a1a" stroke="#1a1a1a" stroke-width="0.32" textLength="40.8" lengthAdjust="spacingAndGlyphs">Placebo</text>
<path d="M125.4 744.0V730.0H388.3V744.0" stroke="#b9b9b9" stroke-width="1.2" fill="none"/>
<text x="130.0" y="740.4" font-size="10.4" font-weight="bold" text-anchor="start" fill="#1a1a1a" stroke="#1a1a1a" stroke-width="0.36" textLength="106.5" lengthAdjust="spacingAndGlyphs">Treatment (Ferritin):</text>
<path d="M258.5 735.6L261.7 738.8L258.5 742.0L255.3 738.8Z" fill="#f0a018"/>
<text x="269.0" y="740.4" font-size="10.4" text-anchor="start" fill="#1a1a1a" stroke="#1a1a1a" stroke-width="0.32" textLength="51.4" lengthAdjust="spacingAndGlyphs">Rusfertide</text>
<path d="M333.2 735.6L336.4 738.8L333.2 742.0L330.0 738.8Z" fill="#777777"/>
<text x="343.1" y="740.4" font-size="10.4" text-anchor="start" fill="#1a1a1a" stroke="#1a1a1a" stroke-width="0.32" textLength="40.0" lengthAdjust="spacingAndGlyphs">Placebo</text>
<path d="M43.8 511.4V530.9M40.9 511.4H46.7M40.9 530.9H46.7" stroke="#4a4ab4" stroke-width="0.9" fill="none"/>
<path d="M60.1 527.5V547.1M57.2 527.5H63.0M57.2 547.1H63.0" stroke="#4a4ab4" stroke-width="0.9" fill="none"/>
<path d="M76.5 524.6V545.2M73.6 524.6H79.4M73.6 545.2H79.4" stroke="#4a4ab4" stroke-width="0.9" fill="none"/>
<path d="M92.8 532.7V551.9M89.9 532.7H95.7M89.9 551.9H95.7" stroke="#4a4ab4" stroke-width="0.9" fill="none"/>
<path d="M109.2 537.9V557.1M106.3 537.9H112.1M106.3 557.1H112.1" stroke="#4a4ab4" stroke-width="0.9" fill="none"/>
<path d="M125.5 546.9V565.3M122.6 546.9H128.4M122.6 565.3H128.4" stroke="#4a4ab4" stroke-width="0.9" fill="none"/>
<path d="M141.8 544.5V566.5M138.9 544.5H144.7M138.9 566.5H144.7" stroke="#4a4ab4" stroke-width="0.9" fill="none"/>
<path d="M158.2 544.5V561.5M155.3 544.5H161.1M155.3 561.5H161.1" stroke="#4a4ab4" stroke-width="0.9" fill="none"/>
<path d="M174.5 526.7V550.3M171.6 526.7H177.4M171.6 550.3H177.4" stroke="#4a4ab4" stroke-width="0.9" fill="none"/>
<path d="M190.9 528.7V561.0M188.0 528.7H193.8M188.0 561.0H193.8" stroke="#4a4ab4" stroke-width="0.9" fill="none"/>
<path d="M207.2 519.8V551.2M204.3 519.8H210.1M204.3 551.2H210.1" stroke="#4a4ab4" stroke-width="0.9" fill="none"/>
<path d="M223.5 545.0V563.5M220.6 545.0H226.4M220.6 563.5H226.4" stroke="#4a4ab4" stroke-width="0.9" fill="none"/>
<path d="M239.9 542.2V561.4M237.0 542.2H242.8M237.0 561.4H242.8" stroke="#4a4ab4" stroke-width="0.9" fill="none"/>
<path d="M256.2 543.6V563.2M253.3 543.6H259.1M253.3 563.2H259.1" stroke="#4a4ab4" stroke-width="0.9" fill="none"/>
<path d="M272.6 552.3V572.7M269.7 552.3H275.5M269.7 572.7H275.5" stroke="#4a4ab4" stroke-width="0.9" fill="none"/>
<path d="M288.9 552.3V572.7M286.0 552.3H291.8M286.0 572.7H291.8" stroke="#4a4ab4" stroke-width="0.9" fill="none"/>
<path d="M305.2 557.3V575.7M302.3 557.3H308.1M302.3 575.7H308.1" stroke="#4a4ab4" stroke-width="0.9" fill="none"/>
<path d="M321.6 551.0V567.7M318.7 551.0H324.5M318.7 567.7H324.5" stroke="#4a4ab4" stroke-width="0.9" fill="none"/>
<path d="M337.9 557.3V577.9M335.0 557.3H340.8M335.0 577.9H340.8" stroke="#4a4ab4" stroke-width="0.9" fill="none"/>
<path d="M354.3 553.8V574.0M351.4 553.8H357.2M351.4 574.0H357.2" stroke="#4a4ab4" stroke-width="0.9" fill="none"/>
<path d="M370.6 560.6V579.2M367.7 560.6H373.5M367.7 579.2H373.5" stroke="#4a4ab4" stroke-width="0.9" fill="none"/>
<path d="M386.9 548.9V571.2M384.0 548.9H389.8M384.0 571.2H389.8" stroke="#4a4ab4" stroke-width="0.9" fill="none"/>
<path d="M403.3 566.5V587.3M400.4 566.5H406.2M400.4 587.3H406.2" stroke="#4a4ab4" stroke-width="0.9" fill="none"/>
<path d="M419.6 567.7V588.3M416.7 567.7H422.5M416.7 588.3H422.5" stroke="#4a4ab4" stroke-width="0.9" fill="none"/>
<path d="M452.3 574.8V601.8M449.4 574.8H455.2M449.4 601.8H455.2" stroke="#4a4ab4" stroke-width="0.9" fill="none"/>
<path d="M174.5 534.8V554.7M171.6 534.8H177.4M171.6 554.7H177.4" stroke="#e8646e" stroke-width="0.9" fill="none"/>
<path d="M190.9 500.1V530.9M188.0 500.1H193.8M188.0 530.9H193.8" stroke="#e8646e" stroke-width="0.9" fill="none"/>
<path d="M207.2 484.9V503.2M204.3 484.9H210.1M204.3 503.2H210.1" stroke="#e8646e" stroke-width="0.9" fill="none"/>
<path d="M125.5 536.5V546.3M122.6 536.5H128.4M122.6 546.3H128.4" stroke="#f0c27a" stroke-width="0.9" fill="none"/>
<path d="M141.8 537.7V549.3M138.9 537.7H144.7M138.9 549.3H144.7" stroke="#f0c27a" stroke-width="0.9" fill="none"/>
<path d="M158.2 533.5V544.5M155.3 533.5H161.1M155.3 544.5H161.1" stroke="#f0c27a" stroke-width="0.9" fill="none"/>
<path d="M174.5 535.0V547.4M171.6 535.0H177.4M171.6 547.4H177.4" stroke="#f0c27a" stroke-width="0.9" fill="none"/>
<path d="M190.9 524.0V539.8M188.0 524.0H193.8M188.0 539.8H193.8" stroke="#f0c27a" stroke-width="0.9" fill="none"/>
<path d="M207.2 525.3V546.5M204.3 525.3H210.1M204.3 546.5H210.1" stroke="#f0c27a" stroke-width="0.9" fill="none"/>
<path d="M223.5 537.5V549.3M220.6 537.5H226.4M220.6 549.3H226.4" stroke="#f0c27a" stroke-width="0.9" fill="none"/>
<path d="M256.2 523.2V543.8M253.3 523.2H259.1M253.3 543.8H259.1" stroke="#f0c27a" stroke-width="0.9" fill="none"/>
<path d="M288.9 520.5V535.3M286.0 520.5H291.8M286.0 535.3H291.8" stroke="#f0c27a" stroke-width="0.9" fill="none"/>
<path d="M321.6 520.8V535.8M318.7 520.8H324.5M318.7 535.8H324.5" stroke="#f0c27a" stroke-width="0.9" fill="none"/>
<path d="M354.3 508.5V526.3M351.4 508.5H357.2M351.4 526.3H357.2" stroke="#f0c27a" stroke-width="0.9" fill="none"/>
<path d="M386.9 505.5V526.3M384.0 505.5H389.8M384.0 526.3H389.8" stroke="#f0c27a" stroke-width="0.9" fill="none"/>
<path d="M419.6 491.5V514.0M416.7 491.5H422.5M416.7 514.0H422.5" stroke="#f0c27a" stroke-width="0.9" fill="none"/>
<path d="M452.3 481.1V508.1M449.4 481.1H455.2M449.4 508.1H455.2" stroke="#f0c27a" stroke-width="0.9" fill="none"/>
<path d="M190.9 558.2V589.2M188.0 558.2H193.8M188.0 589.2H193.8" stroke="#a0a0a0" stroke-width="0.9" fill="none"/>
<path d="M43.8 520.9L60.1 537.5L76.5 535.0L92.8 541.9L109.2 548.1L125.5 555.7L141.8 555.0L158.2 553.0L174.5 538.2L190.9 545.1L207.2 536.0L223.5 554.2L239.9 551.5L256.2 553.4L272.6 561.9L288.9 561.9L305.2 566.3L321.6 559.6L337.9 567.7L354.3 563.5L370.6 570.2L386.9 560.0L403.3 576.7L419.6 578.1L452.3 588.3" stroke="#0808dc" stroke-width="2.65" fill="none" stroke-linejoin="round" stroke-linecap="round"/>
<path d="M207.2 494.2L223.5 554.2" stroke="#0808dc" stroke-width="2.65" fill="none" stroke-linejoin="round" stroke-linecap="round"/>
<path d="M43.8 588.1L60.1 572.7L76.5 565.4L92.8 557.3L109.2 548.7L125.5 541.4L141.8 543.5L158.2 539.0L174.5 541.2L190.9 531.9L207.2 535.9L223.5 543.4L256.2 533.1L288.9 527.9L321.6 528.5L354.3 517.3L386.9 515.8L419.6 502.7L452.3 494.6" stroke="#f0a018" stroke-width="2.65" fill="none" stroke-linejoin="round" stroke-linecap="round"/>
<path d="M207.2 588.9L223.5 543.4" stroke="#f0a018" stroke-width="2.65" fill="none" stroke-linejoin="round" stroke-linecap="round"/>
<path d="M158.2 539.0L174.5 584.0L190.9 573.7L207.2 588.9" stroke="#777777" stroke-width="2.65" fill="none" stroke-linejoin="round" stroke-linecap="round"/>
<path d="M158.2 553.0L174.5 544.5L190.9 515.5L207.2 494.2" stroke="#e10a0a" stroke-width="2.65" fill="none" stroke-linejoin="round" stroke-linecap="round"/>
<path d="M43.8 517.5L47.2 520.9L43.8 524.3L40.4 520.9Z" fill="#0808dc"/>
<path d="M60.1 534.1L63.5 537.5L60.1 540.9L56.7 537.5Z" fill="#0808dc"/>
<path d="M76.5 531.6L79.9 535.0L76.5 538.4L73.1 535.0Z" fill="#0808dc"/>
<path d="M92.8 538.5L96.2 541.9L92.8 545.3L89.4 541.9Z" fill="#0808dc"/>
<path d="M109.2 544.7L112.6 548.1L109.2 551.5L105.8 548.1Z" fill="#0808dc"/>
<path d="M125.5 552.3L128.9 555.7L125.5 559.1L122.1 555.7Z" fill="#0808dc"/>
<path d="M141.8 551.6L145.2 555.0L141.8 558.4L138.4 555.0Z" fill="#0808dc"/>
<path d="M158.2 549.6L161.6 553.0L158.2 556.4L154.8 553.0Z" fill="#0808dc"/>
<path d="M174.5 534.8L177.9 538.2L174.5 541.6L171.1 538.2Z" fill="#0808dc"/>
<path d="M190.9 541.7L194.3 545.1L190.9 548.5L187.5 545.1Z" fill="#0808dc"/>
<path d="M207.2 532.6L210.6 536.0L207.2 539.4L203.8 536.0Z" fill="#0808dc"/>
<path d="M223.5 550.8L226.9 554.2L223.5 557.6L220.1 554.2Z" fill="#0808dc"/>
<path d="M239.9 548.1L243.3 551.5L239.9 554.9L236.5 551.5Z" fill="#0808dc"/>
<path d="M256.2 550.0L259.6 553.4L256.2 556.8L252.8 553.4Z" fill="#0808dc"/>
<path d="M272.6 558.5L276.0 561.9L272.6 565.3L269.2 561.9Z" fill="#0808dc"/>
<path d="M288.9 558.5L292.3 561.9L288.9 565.3L285.5 561.9Z" fill="#0808dc"/>
<path d="M305.2 562.9L308.6 566.3L305.2 569.7L301.8 566.3Z" fill="#0808dc"/>
<path d="M321.6 556.2L325.0 559.6L321.6 563.0L318.2 559.6Z" fill="#0808dc"/>
<path d="M337.9 564.3L341.3 567.7L337.9 571.1L334.5 567.7Z" fill="#0808dc"/>
<path d="M354.3 560.1L357.7 563.5L354.3 566.9L350.9 563.5Z" fill="#0808dc"/>
<path d="M370.6 566.8L374.0 570.2L370.6 573.6L367.2 570.2Z" fill="#0808dc"/>
<path d="M386.9 556.6L390.3 560.0L386.9 563.4L383.5 560.0Z" fill="#0808dc"/>
<path d="M403.3 573.3L406.7 576.7L403.3 580.1L399.9 576.7Z" fill="#0808dc"/>
<path d="M419.6 574.7L423.0 578.1L419.6 581.5L416.2 578.1Z" fill="#0808dc"/>
<path d="M452.3 584.9L455.7 588.3L452.3 591.7L448.9 588.3Z" fill="#0808dc"/>
<path d="M174.5 541.1L177.9 544.5L174.5 547.9L171.1 544.5Z" fill="#e10a0a"/>
<path d="M190.9 512.1L194.3 515.5L190.9 518.9L187.5 515.5Z" fill="#e10a0a"/>
<path d="M207.2 490.8L210.6 494.2L207.2 497.6L203.8 494.2Z" fill="#e10a0a"/>
<path d="M43.8 584.7L47.2 588.1L43.8 591.5L40.4 588.1Z" fill="#f0a018"/>
<path d="M60.1 569.3L63.5 572.7L60.1 576.1L56.7 572.7Z" fill="#f0a018"/>
<path d="M76.5 562.0L79.9 565.4L76.5 568.8L73.1 565.4Z" fill="#f0a018"/>
<path d="M92.8 553.9L96.2 557.3L92.8 560.7L89.4 557.3Z" fill="#f0a018"/>
<path d="M109.2 545.3L112.6 548.7L109.2 552.1L105.8 548.7Z" fill="#f0a018"/>
<path d="M125.5 538.0L128.9 541.4L125.5 544.8L122.1 541.4Z" fill="#f0a018"/>
<path d="M141.8 540.1L145.2 543.5L141.8 546.9L138.4 543.5Z" fill="#f0a018"/>
<path d="M158.2 535.6L161.6 539.0L158.2 542.4L154.8 539.0Z" fill="#f0a018"/>
<path d="M174.5 537.8L177.9 541.2L174.5 544.6L171.1 541.2Z" fill="#f0a018"/>
<path d="M190.9 528.5L194.3 531.9L190.9 535.3L187.5 531.9Z" fill="#f0a018"/>
<path d="M207.2 532.5L210.6 535.9L207.2 539.3L203.8 535.9Z" fill="#f0a018"/>
<path d="M223.5 540.0L226.9 543.4L223.5 546.8L220.1 543.4Z" fill="#f0a018"/>
<path d="M256.2 529.7L259.6 533.1L256.2 536.5L252.8 533.1Z" fill="#f0a018"/>
<path d="M288.9 524.5L292.3 527.9L288.9 531.3L285.5 527.9Z" fill="#f0a018"/>
<path d="M321.6 525.1L325.0 528.5L321.6 531.9L318.2 528.5Z" fill="#f0a018"/>
<path d="M354.3 513.9L357.7 517.3L354.3 520.7L350.9 517.3Z" fill="#f0a018"/>
<path d="M386.9 512.4L390.3 515.8L386.9 519.2L383.5 515.8Z" fill="#f0a018"/>
<path d="M419.6 499.3L423.0 502.7L419.6 506.1L416.2 502.7Z" fill="#f0a018"/>
<path d="M452.3 491.2L455.7 494.6L452.3 498.0L448.9 494.6Z" fill="#f0a018"/>
<path d="M174.5 580.6L177.9 584.0L174.5 587.4L171.1 584.0Z" fill="#777777"/>
<path d="M190.9 570.3L194.3 573.7L190.9 577.1L187.5 573.7Z" fill="#777777"/>
<path d="M207.2 585.5L210.6 588.9L207.2 592.3L203.8 588.9Z" fill="#777777"/>
</svg></body></html>
